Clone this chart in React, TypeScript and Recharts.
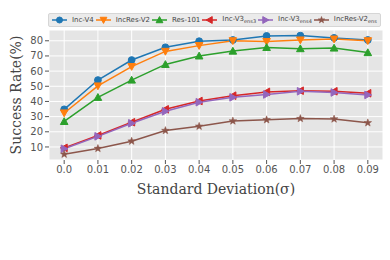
import React from "react";
import { CartesianGrid, Line, LineChart, XAxis, YAxis } from "recharts";

const sigmas = [0, 0.01, 0.02, 0.03, 0.04, 0.05, 0.06, 0.07, 0.08, 0.09];
const sigmaLabels = ["0.0", "0.01", "0.02", "0.03", "0.04", "0.05", "0.06", "0.07", "0.08", "0.09"];
const yTicks = [10, 20, 30, 40, 50, 60, 70, 80];

const incV4 = [34.8, 54.1, 67.3, 75.7, 79.7, 80.5, 83.2, 83.4, 81.9, 80.5];
const incResV2 = [32.4, 50.2, 63.0, 73.0, 76.8, 80.0, 79.5, 80.5, 81.1, 80.0];
const res101 = [26.8, 42.7, 54.1, 64.4, 70.0, 73.2, 75.6, 74.8, 75.2, 72.2];
const incV3ens3 = [9.4, 17.6, 26.3, 34.8, 40.3, 43.8, 46.3, 47.1, 46.7, 45.4];
const incV3ens4 = [8.8, 17.0, 25.6, 33.5, 39.5, 42.7, 44.6, 46.7, 45.9, 44.3];
const incResV2ens = [5.2, 9.0, 13.8, 20.8, 23.6, 27.1, 27.9, 28.7, 28.4, 25.9];

type Marker = "circle" | "down" | "up" | "left" | "right" | "star";

const series: { key: string; name: string; sub?: string; color: string; marker: Marker; values: number[] }[] = [
  { key: "incV4", name: "Inc-V4", color: "#1f77b4", marker: "circle", values: incV4 },
  { key: "incResV2", name: "IncRes-V2", color: "#ff7f0e", marker: "down", values: incResV2 },
  { key: "res101", name: "Res-101", color: "#2ca02c", marker: "up", values: res101 },
  { key: "incV3ens3", name: "Inc-V3", sub: "ens3", color: "#d62728", marker: "left", values: incV3ens3 },
  { key: "incV3ens4", name: "Inc-V3", sub: "ens4", color: "#9467bd", marker: "right", values: incV3ens4 },
  { key: "incResV2ens", name: "IncRes-V2", sub: "ens", color: "#8c564b", marker: "star", values: incResV2ens },
];

const chartData = sigmas.map((s, i) => {
  const row: Record<string, number> = { sigma: s };
  series.forEach((se) => {
    row[se.key] = se.values[i];
  });
  return row;
});

function markerShape(marker: Marker, cx: number, cy: number, color: string, r = 3.4) {
  if (marker === "circle") return <circle cx={cx} cy={cy} r={r} fill={color} stroke={color} />;
  if (marker === "star") {
    const pts: string[] = [];
    for (let i = 0; i < 10; i++) {
      const rad = i % 2 === 0 ? r + 0.6 : (r + 0.6) * 0.42;
      const a = -Math.PI / 2 + (i * Math.PI) / 5;
      pts.push(`${cx + rad * Math.cos(a)},${cy + rad * Math.sin(a)}`);
    }
    return <polygon points={pts.join(" ")} fill={color} stroke={color} strokeWidth={0.5} />;
  }
  const rot = { up: 0, right: 90, down: 180, left: 270 }[marker];
  const k = r + 0.4;
  return (
    <polygon
      points={`${cx},${cy - k} ${cx + k},${cy + k * 0.8} ${cx - k},${cy + k * 0.8}`}
      transform={`rotate(${rot} ${cx} ${cy})`}
      fill={color}
      stroke={color}
    />
  );
}

function ChartLegend() {
  return (
    <div
      style={{
        position: "absolute",
        left: 48,
        top: 13,
        width: 333,
        height: 14,
        background: "#ebebeb",
        border: "1px solid #d6d6d6",
        borderRadius: 2,
        boxSizing: "border-box",
        display: "flex",
        alignItems: "center",
        paddingLeft: 3,
        fontFamily: "DejaVu Sans",
        fontSize: 7,
        color: "#444",
        whiteSpace: "nowrap",
      }}
    >
      {series.map((se) => (
        <div key={se.key} style={{ display: "flex", alignItems: "center", marginRight: 2 }}>
          <svg width={15} height={10} style={{ marginRight: 5 }}>
            <line x1={0} y1={5} x2={15} y2={5} stroke={se.color} strokeWidth={1.5} />
            {markerShape(se.marker, 7.5, 5, se.color, 3)}
          </svg>
          <span>
            {se.name}
            {se.sub && <sub style={{ fontSize: 5 }}>{se.sub}</sub>}
          </span>
        </div>
      ))}
    </div>
  );
}

const tickStyle = { fontSize: 10, fill: "#555", fontFamily: "DejaVu Sans" };

export default function App() {
  return (
    <div style={{ position: "absolute", left: 0, top: 0, width: 390, height: 260, background: "#fff" }}>
      <LineChart width={390} height={260} data={chartData} margin={{ top: 30, right: 7, bottom: 50, left: 0 }}>
        <CartesianGrid fill="#e5e5e5" stroke="#ffffff" strokeWidth={1} />
        <XAxis
          dataKey="sigma"
          type="number"
          domain={[-0.0045, 0.0945]}
          ticks={sigmas}
          interval={0}
          tickFormatter={(v: number) => sigmaLabels[sigmas.indexOf(v)] ?? String(v)}
          tick={tickStyle}
          tickLine={{ stroke: "#555" }}
          tickSize={4}
          axisLine={false}
          height={50}
          label={{
            value: "Standard Deviation(σ)",
            position: "insideBottom",
            offset: 16,
            style: { fontFamily: "DejaVu Serif", fontSize: 14, fill: "#444" },
          }}
        />
        <YAxis
          type="number"
          domain={[1.4, 87.1]}
          ticks={yTicks}
          interval={0}
          tick={tickStyle}
          tickLine={{ stroke: "#555" }}
          tickSize={4}
          axisLine={false}
          width={49}
          label={{
            value: "Success Rate(%)",
            angle: -90,
            position: "insideLeft",
            offset: 16,
            style: { fontFamily: "DejaVu Serif", fontSize: 14, fill: "#444", textAnchor: "middle" },
          }}
        />
        {series.map((se) => (
          <Line
            key={se.key}
            dataKey={se.key}
            stroke={se.color}
            strokeWidth={1.5}
            isAnimationActive={false}
            dot={(p: any) => <g key={`${se.key}-${p.index}`}>{markerShape(se.marker, p.cx, p.cy, se.color)}</g>}
            activeDot={false}
          />
        ))}
      </LineChart>
      <ChartLegend />
    </div>
  );
}
